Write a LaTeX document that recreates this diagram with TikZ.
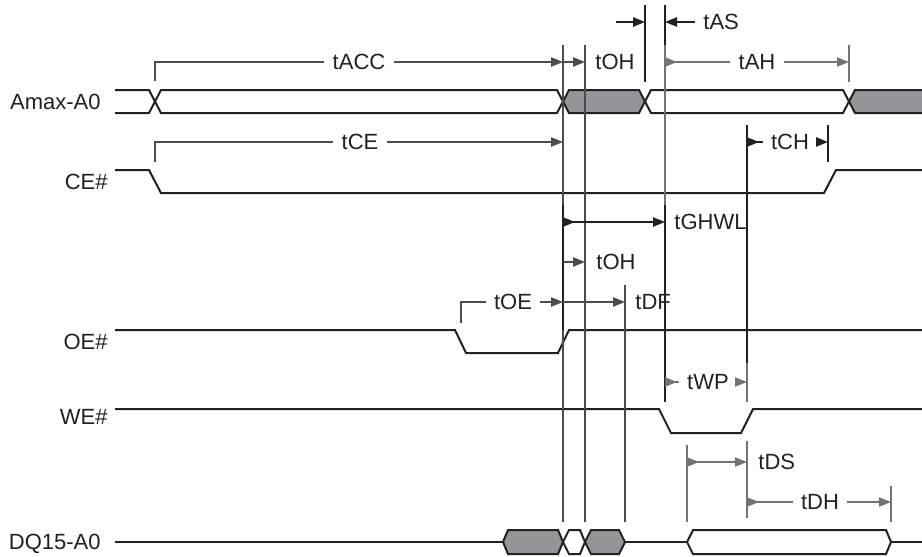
\documentclass[tikz,border=0pt]{standalone}
\usepackage{fontspec}
\setmainfont{Liberation Sans}
\usetikzlibrary{arrows.meta}
\definecolor{sqsqsq}{rgb}{0.14,0.12,0.13}
\definecolor{xdxdxd}{rgb}{0.3,0.3,0.31}
\definecolor{wvwvww}{rgb}{0.45,0.45,0.46}
\definecolor{ttttzz}{rgb}{0.58,0.58,0.6}

\begin{document}
\begin{tikzpicture}[line cap=butt,line join=miter,x=0.5pt,y=-0.5pt,
    sig/.style={color=sqsqsq,line width=1pt},
    bus/.style={sig,fill=ttttzz},
    blk/.style={color=sqsqsq,line width=0.9pt},
    drk/.style={color=xdxdxd,line width=0.9pt},
    gry/.style={color=wvwvww,line width=0.8pt},
    fwd/.style={-{Triangle[length=6pt,width=4.6pt]}},
    rev/.style={{Triangle[length=6pt,width=4.6pt,reversed]}-},
    revfwd/.style={{Triangle[length=6pt,width=4.6pt,reversed]}-{Triangle[length=6pt,width=4.6pt]}},
    lbl/.style={inner xsep=4pt,inner ysep=0pt,text height=7.9pt,text depth=0pt,
        font=\fontsize{11}{13}\selectfont,color=sqsqsq},
    sname/.style={lbl,anchor=east,inner xsep=0pt}]
\useasboundingbox (0,0) rectangle (922,557);

% time marks
\coordinate (m0) at (155,0);
\coordinate (m1) at (563,0);
\coordinate (m2) at (585,0);
\coordinate (m3) at (625,0);
\coordinate (m4) at (645,0);
\coordinate (m5) at (665,0);
\coordinate (m6) at (687,0);
\coordinate (m7) at (747,0);
\coordinate (m8) at (828,0);
\coordinate (m9) at (849,0);
\coordinate (m10) at (891,0);
\coordinate (m11) at (461,0);

% signal names
\node[sname] (amax) at (101,102) {Amax-A0};
\node[sname] (ce) at (108,182) {CE\#};
\node[sname] (oe) at (108,342) {OE\#};
\node[sname] (we) at (108,417) {WE\#};
\node[sname] (dq) at (101,542) {DQ15-A0};

% Amax-A0
\fill[ttttzz] (563,101.5) -- (569,90) -- (639,90) -- (645,101.5) -- (639,113) -- (569,113) -- cycle;
\fill[ttttzz] (849,101.5) -- (855,90) -- (922,90) -- (922,113) -- (855,113) -- cycle;
\draw[sig] (115,90) -- (149,90) -- (161,113) -- (557,113) -- (569,90) -- (639,90) -- (651,113) -- (843,113) -- (855,90) -- (922,90);
\draw[sig] (115,113) -- (149,113) -- (161,90) -- (557,90) -- (569,113) -- (639,113) -- (651,90) -- (843,90) -- (855,113) -- (922,113);

% CE#
\draw[sig] (115,170) -- (149,170) -- (161,193) -- (824,193) -- (836,170) -- (922,170);

% OE#
\draw[sig] (115,330) -- (455,330) -- (466,353) -- (558,353) -- (569,330) -- (922,330);

% WE#
\draw[sig] (115,409) -- (659,409) -- (671,433) -- (741,433) -- (753,409) -- (922,409);

% DQ15-A0
\draw[sig] (115,542) -- (503,542);
\draw[bus] (503,542) -- (508,530) -- (558,530) -- (563,542) -- (558,554) -- (508,554) -- cycle;
\draw[sig] (563,542) -- (569,530) -- (580,530) -- (585,542) -- (580,554) -- (569,554) -- cycle;
\draw[bus] (585,542) -- (591,530) -- (619,530) -- (625,542) -- (619,554) -- (591,554) -- cycle;
\draw[sig] (625,542) -- (687,542);
\draw[sig] (687,542) -- (693,530) -- (886,530) -- (891,542) -- (886,554) -- (693,554) -- cycle;
\draw[sig] (891,542) -- (922,542);

% reference lines
\foreach \x/\y in {563/45,585/45,625/285}
    \draw[drk] (\x,\y) -- (\x,522);
\draw[blk] (563,205) -- (563,330);
\draw[blk] (645,5) -- (645,82);
\draw[blk] (665,5) -- (665,45);
\draw[gry] (665,45) -- (665,402);
\draw[blk] (665,205) -- (665,402);
\draw[blk] (747,125) -- (747,363);
\draw[gry] (747,363) -- (747,402);
\draw[gry] (747,441) -- (747,518);
\draw[blk] (828,125) -- (828,162);
\draw[gry] (849,45) -- (849,82);
\draw[gry] (687,445) -- (687,522);
\draw[gry] (891,486) -- (891,522);

% tACC, tOH
\node[lbl] (tacc) at (359,62) {tACC};
\draw[drk] (155,81) -- (m0 |- tacc) -- (tacc);
\draw[drk,fwd] (tacc) -- (m1 |- tacc);
\node[lbl,anchor=west] (toha) at (587,62) {tOH};
\draw[drk,fwd] (m1 |- toha) -- (m2 |- toha);

% tAS
\node[lbl,anchor=west] (tas) at (695,22) {tAS};
\coordinate (asl) at (616,22);
\draw[blk,fwd] (asl) -- (m4 |- tas);
\draw[blk,fwd] (tas) -- (m5 |- tas);

% tAH
\node[lbl] (tah) at (757,62) {tAH};
\draw[gry,rev] (m5 |- tah) -- (tah);
\draw[gry,fwd] (tah) -- (m9 |- tah);

% tCE, tCH
\node[lbl] (tce) at (360,142) {tCE};
\draw[drk] (155,162) -- (m0 |- tce) -- (tce);
\draw[drk,fwd] (tce) -- (m1 |- tce);
\node[lbl] (tch) at (790,142) {tCH};
\draw[blk,rev] (m7 |- tch) -- (tch);
\draw[blk,fwd] (tch) -- (m8 |- tch);

% tGHWL, tOH
\node[lbl,anchor=west] (tghwl) at (666,222) {tGHWL};
\draw[blk,revfwd] (m1 |- tghwl) -- (m5 |- tghwl);
\node[lbl,anchor=west] (tohb) at (588,262) {tOH};
\draw[drk,fwd] (m1 |- tohb) -- (m2 |- tohb);

% tOE, tDF
\node[lbl] (toe) at (513,302) {tOE};
\draw[drk] (461,323) -- (m11 |- toe) -- (toe);
\draw[drk,fwd] (toe) -- (m1 |- toe);
\node[lbl,anchor=west] (tdf) at (627,302) {tDF};
\draw[drk,fwd] (m1 |- tdf) -- (m3 |- tdf);

% tWP
\node[lbl] (twp) at (708,382) {tWP};
\draw[gry,rev] (m5 |- twp) -- (twp);
\draw[gry,fwd] (twp) -- (m7 |- twp);

% tDS, tDH
\node[lbl,anchor=west] (tds) at (750,462) {tDS};
\draw[gry,revfwd] (m6 |- tds) -- (m7 |- tds);
\node[lbl] (tdh) at (820,502) {tDH};
\draw[gry,rev] (m7 |- tdh) -- (tdh);
\draw[gry,fwd] (tdh) -- (m10 |- tdh);
\end{tikzpicture}
\end{document}
